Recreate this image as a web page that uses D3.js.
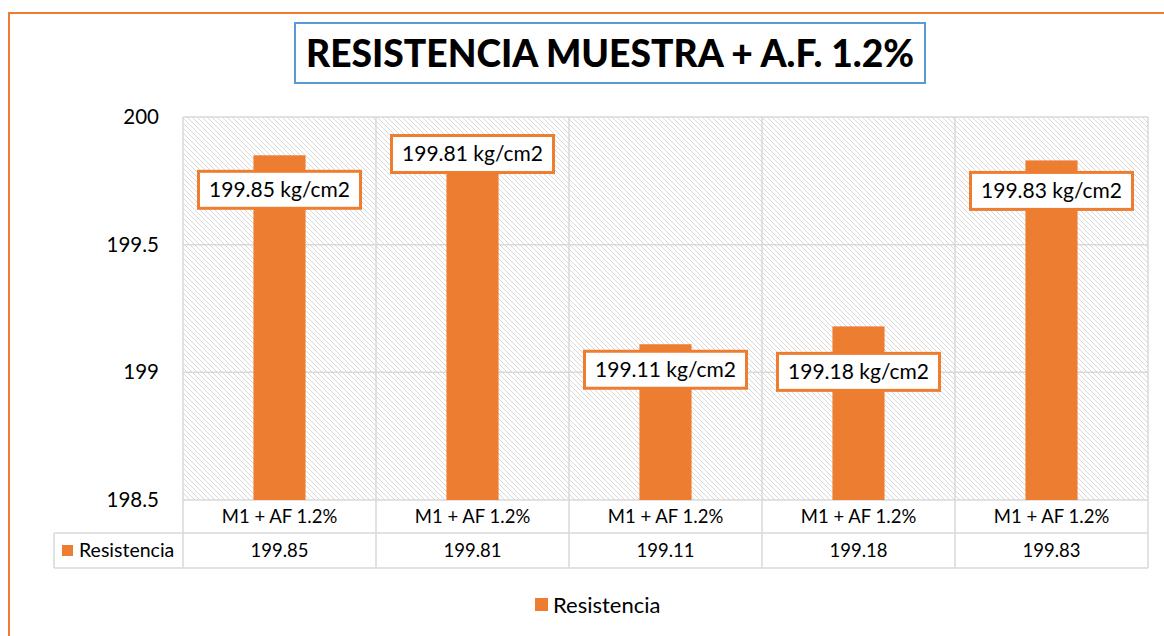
<!DOCTYPE html>
<html>
<head>
<meta charset="utf-8">
<script src="https://cdn.jsdelivr.net/npm/d3@7"></script>
<style>
  body { margin: 0; background: #fff; }
  text { font-family: Lato, "Open Sans", sans-serif; fill: #000; }
</style>
</head>
<body>
<script>
    var categories = ["M1 + AF 1.2%", "M1 + AF 1.2%", "M1 + AF 1.2%", "M1 + AF 1.2%", "M1 + AF 1.2%"];
    var resistencia = [199.85, 199.81, 199.11, 199.18, 199.83];
    var yTicks = [198.5, 199, 199.5, 200];
    var seriesName = "Resistencia";
    var unit = " kg/cm2";
    // hand placed labels: shift of label centre from the bar top
    var labelDy = [34, -12, 25, 45, 30];

    var width = 1164,
        height = 636,
        plotLeft = 183,
        plotRight = 1148,
        plotTop = 117,
        plotBottom = 500,
        rowH1 = 33,
        rowH2 = 35,
        keyLeft = 54,
        orange = "#ed7d31",
        gridColor = "#d9d9d9";

    var data = categories.map(function (c, i) {
        return { cat: c, idx: i, value: resistencia[i] };
    });

    var svg = d3.select("body")
        .append("svg")
        .attr("width", width)
        .attr("height", height);

    var defs = svg.append("defs");
    var pat = defs.append("pattern")
        .attr("id", "hatch")
        .attr("patternUnits", "userSpaceOnUse")
        .attr("width", 5)
        .attr("height", 5);
    pat.append("path")
        .attr("d", "M-1,-1 L6,6 M-1,4 L1,6 M4,-1 L6,1")
        .attr("stroke", "#d9d9d9")
        .attr("stroke-width", 1);

    // outer chart border
    svg.append("rect")
        .attr("x", 9)
        .attr("y", 13)
        .attr("width", width + 20)
        .attr("height", height + 20)
        .attr("fill", "none")
        .attr("stroke", orange)
        .attr("stroke-width", 2);

    // title
    var titleG = svg.append("g");
    titleG.append("rect")
        .attr("x", 295)
        .attr("y", 23)
        .attr("width", 630)
        .attr("height", 60)
        .attr("fill", "#fff")
        .attr("stroke", "#5b9bd5")
        .attr("stroke-width", 2);
    titleG.append("text")
        .attr("x", 610)
        .attr("y", 67)
        .attr("text-anchor", "middle")
        .style("font-size", "38px")
        .style("font-weight", "900")
        .attr("textLength", 608)
        .attr("lengthAdjust", "spacingAndGlyphs")
        .text("RESISTENCIA MUESTRA + A.F. 1.2%");

    var x = d3.scaleBand()
        .domain(d3.range(categories.length))
        .range([plotLeft, plotRight])
        .paddingInner(0)
        .paddingOuter(0);

    var y = d3.scaleLinear()
        .domain([198.5, 200])
        .range([plotBottom, plotTop]);

    // plot background
    svg.append("rect")
        .attr("x", plotLeft)
        .attr("y", plotTop)
        .attr("width", plotRight - plotLeft)
        .attr("height", plotBottom - plotTop)
        .attr("fill", "url(#hatch)");

    // horizontal grid
    svg.append("g")
        .selectAll("line")
        .data(yTicks)
        .enter()
        .append("line")
        .attr("x1", plotLeft)
        .attr("x2", plotRight)
        .attr("y1", function (d) { return y(d); })
        .attr("y2", function (d) { return y(d); })
        .attr("stroke", gridColor)
        .attr("stroke-width", 1.5);

    // vertical lines down through the table
    var xEdges = d3.range(categories.length + 1).map(function (i) {
        return i < categories.length ? x(i) : plotRight;
    });
    svg.append("g")
        .selectAll("line")
        .data(xEdges)
        .enter()
        .append("line")
        .attr("x1", function (d) { return d; })
        .attr("x2", function (d) { return d; })
        .attr("y1", plotTop)
        .attr("y2", plotBottom + rowH1 + rowH2)
        .attr("stroke", gridColor)
        .attr("stroke-width", 1.5);

    // table rows
    svg.append("line")
        .attr("x1", keyLeft).attr("x2", plotRight)
        .attr("y1", plotBottom + rowH1).attr("y2", plotBottom + rowH1)
        .attr("stroke", gridColor).attr("stroke-width", 1.5);
    svg.append("line")
        .attr("x1", keyLeft).attr("x2", plotRight)
        .attr("y1", plotBottom + rowH1 + rowH2).attr("y2", plotBottom + rowH1 + rowH2)
        .attr("stroke", gridColor).attr("stroke-width", 1.5);
    svg.append("line")
        .attr("x1", keyLeft).attr("x2", keyLeft)
        .attr("y1", plotBottom + rowH1).attr("y2", plotBottom + rowH1 + rowH2)
        .attr("stroke", gridColor).attr("stroke-width", 1.5);

    // y axis labels
    var yAxis = d3.axisLeft(y)
        .tickValues(yTicks)
        .tickSize(0)
        .tickPadding(0)
        .tickFormat(function (d) { return d3.format("")(d); });
    var yg = svg.append("g")
        .attr("transform", "translate(159,0)")
        .call(yAxis);
    yg.select(".domain").remove();
    yg.selectAll("text")
        .style("font-size", "20.5px")
        .style("font-family", "Lato, 'Open Sans', sans-serif")
        .attr("fill", "#000");

    // bars
    var barW = x.bandwidth() * 0.27;
    svg.append("g")
        .selectAll("rect")
        .data(data)
        .enter()
        .append("rect")
        .attr("x", function (d) { return x(d.idx) + (x.bandwidth() - barW) / 2; })
        .attr("y", function (d) { return y(d.value); })
        .attr("width", barW)
        .attr("height", function (d) { return plotBottom - y(d.value); })
        .attr("fill", orange);

    // data labels
    var lab = svg.append("g")
        .selectAll("g")
        .data(data)
        .enter()
        .append("g")
        .attr("transform", function (d) {
            return "translate(" + (x(d.idx) + x.bandwidth() / 2) + "," + (y(d.value) + labelDy[d.idx]) + ")";
        });
    lab.append("rect")
        .attr("x", -81)
        .attr("y", -18)
        .attr("width", 162)
        .attr("height", 37)
        .attr("fill", "#fff")
        .attr("stroke", orange)
        .attr("stroke-width", 3);
    lab.append("text")
        .attr("text-anchor", "middle")
        .attr("dy", "0.38em")
        .style("font-size", "21px")
        .text(function (d) { return d.value + unit; });

    // table text
    svg.append("g")
        .selectAll("text")
        .data(data)
        .enter()
        .append("text")
        .attr("x", function (d) { return x(d.idx) + x.bandwidth() / 2; })
        .attr("y", plotBottom + rowH1 / 2)
        .attr("dy", "0.35em")
        .attr("text-anchor", "middle")
        .style("font-size", "18.5px")
        .text(function (d) { return d.cat; });

    svg.append("g")
        .selectAll("text")
        .data(data)
        .enter()
        .append("text")
        .attr("x", function (d) { return x(d.idx) + x.bandwidth() / 2; })
        .attr("y", plotBottom + rowH1 + rowH2 / 2)
        .attr("dy", "0.35em")
        .attr("text-anchor", "middle")
        .style("font-size", "18.5px")
        .text(function (d) { return d.value.toFixed(2); });

    // legend key inside table
    svg.append("rect")
        .attr("x", 62)
        .attr("y", 545)
        .attr("width", 11)
        .attr("height", 11)
        .attr("fill", orange);
    svg.append("text")
        .attr("x", 79)
        .attr("y", plotBottom + rowH1 + rowH2 / 2)
        .attr("dy", "0.35em")
        .style("font-size", "19.5px")
        .text(seriesName);

    // bottom legend
    svg.append("rect")
        .attr("x", 535)
        .attr("y", 598)
        .attr("width", 13)
        .attr("height", 13)
        .attr("fill", orange);
    svg.append("text")
        .attr("x", 553)
        .attr("y", 605)
        .attr("dy", "0.35em")
        .style("font-size", "22px")
        .text(seriesName);
</script>
</body>
</html>
